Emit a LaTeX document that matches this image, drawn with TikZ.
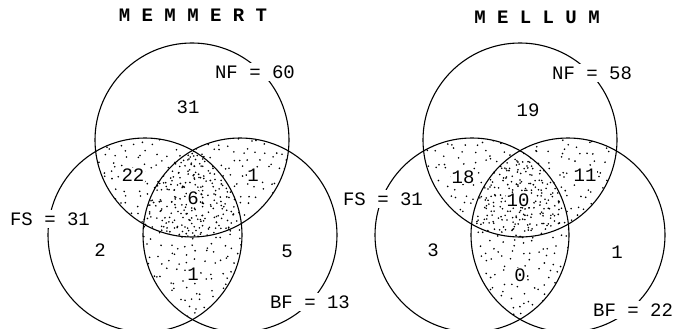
\documentclass[tikz,border=0pt]{standalone}
\usepackage{fontspec}
\setmonofont{Liberation Mono}
\newcommand{\stipstep}{9}
\newcommand{\stipple}[4]{%
  \pgfmathtruncatemacro\stnx{(#3-#1)/\stipstep}%
  \pgfmathtruncatemacro\stny{(#4-#2)/\stipstep}%
  \foreach \si in {0,...,\stnx}{%
    \foreach \sj in {0,...,\stny}{%
      \pgfmathsetmacro\stx{#1+\si*\stipstep+(rnd-0.5)*\stipstep}%
      \pgfmathsetmacro\sty{#2+\sj*\stipstep+(rnd-0.5)*\stipstep}%
      \fill (\stx,\sty) circle (0.9pt);}}}
\begin{document}
\begin{tikzpicture}[x=1pt,y=-1pt,
  ring/.style={line width=1.1pt},
  setlab/.style={font=\ttfamily\fontsize{19}{19}\selectfont, fill=white, inner sep=3pt},
  cnt/.style={font=\ttfamily\fontsize{19}{19}\selectfont, fill=white, inner sep=0.5pt},
  ttl/.style={font=\ttfamily\bfseries\fontsize{19}{19}\selectfont}]
\useasboundingbox (0,0) rectangle (680,329);
\pgfmathsetseed{7}
% centres
\coordinate (LNF) at (192,140);
\coordinate (LFS) at (145,235);
\coordinate (LBF) at (240,235);
\coordinate (RNF) at (520,140);
\coordinate (RFS) at (472,235);
\coordinate (RBF) at (568,235);
% stippling, left
\begin{scope}\clip (LNF) circle (97pt); \clip (LFS) circle (97pt);
  \stipple{92}{134}{200}{242}\end{scope}
\begin{scope}\clip (LNF) circle (97pt); \clip (LBF) circle (97pt);
  \stipple{186}{134}{294}{242}\end{scope}
\begin{scope}\clip (LFS) circle (97pt); \clip (LBF) circle (97pt);
  \stipple{141}{146}{245}{324}\end{scope}
\begin{scope}\clip (LNF) circle (97pt); \clip (LFS) circle (97pt); \clip (LBF) circle (97pt);
  \stipple{141}{146}{245}{242}\end{scope}
% stippling, right
\begin{scope}\clip (RNF) circle (97pt); \clip (RFS) circle (97pt);
  \stipple{420}{134}{528}{242}\end{scope}
\begin{scope}\clip (RNF) circle (97pt); \clip (RBF) circle (97pt);
  \stipple{514}{134}{622}{242}\end{scope}
\begin{scope}\clip (RFS) circle (97pt); \clip (RBF) circle (97pt);
  \stipple{468}{146}{572}{324}\end{scope}
\begin{scope}\clip (RNF) circle (97pt); \clip (RFS) circle (97pt); \clip (RBF) circle (97pt);
  \stipple{468}{146}{572}{242}\end{scope}
% circles
\foreach \c in {LNF,LFS,LBF,RNF,RFS,RBF}{\draw[ring] (\c) circle (97pt);}
% left labels
\node[ttl] (tl) at (193,15) {M E M M E R T};
\node[setlab] (lnf) at (255,72) {NF = 60};
\node[setlab] (lfs) at (50,219) {FS = 31};
\node[setlab] (lbf) at (310,302) {BF = 13};
\node[cnt] (l1) at (188,107) {31};
\node[cnt] (l2) at (133,175) {22};
\node[cnt] (l3) at (193,198) {6};
\node[cnt] (l4) at (253,175) {1};
\node[cnt] (l5) at (100,250) {2};
\node[cnt] (l6) at (287,251) {5};
\node[cnt] (l7) at (193,274) {1};
% right labels
\node[ttl] (tr) at (537,17) {M E L L U M};
\node[setlab] (rnf) at (592,73) {NF = 58};
\node[setlab] (rfs) at (383,199) {FS = 31};
\node[setlab] (rbf) at (633,310) {BF = 22};
\node[cnt] (r1) at (528,110) {19};
\node[cnt] (r2) at (463,177) {18};
\node[cnt] (r3) at (518,200) {10};
\node[cnt] (r4) at (585,175) {11};
\node[cnt] (r5) at (433,250) {3};
\node[cnt] (r6) at (617,252) {1};
\node[cnt] (r7) at (520,275) {0};
\end{tikzpicture}
\end{document}
